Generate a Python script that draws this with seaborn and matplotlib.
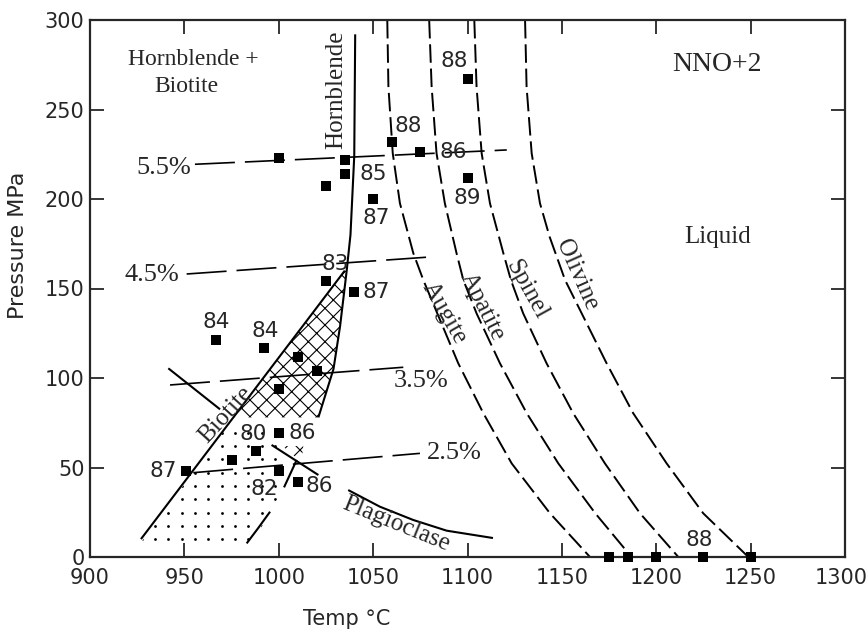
import numpy as np
import pandas as pd
import matplotlib
matplotlib.use("Agg")
import matplotlib.pyplot as plt
import matplotlib.transforms as mtransforms
import seaborn as sns
from matplotlib.patches import Polygon

# ---------------- data ----------------
pt_temp = [1000, 1035, 1035, 1025, 1050, 1060, 1075, 1100, 1100, 1025, 1040,
           967, 992, 1010, 1020, 1000, 1000, 988, 975, 951, 1000, 1010,
           1175, 1185, 1200, 1225, 1250]
pt_press = [223, 222, 214, 207, 200, 232, 226, 267, 212, 154, 148,
            121, 117, 112, 104, 94, 69, 59, 54, 48, 48, 42,
            0, 0, 0, 0, 0]
pt_label = ["", "", "85", "", "87", "88", "86", "88", "89", "83", "87",
            "84", "84", "", "", "", "86", "80", "", "87", "82", "86",
            "", "", "", "88", ""]

hbl_T = [1040.5, 1040, 1038, 1036, 1032.5, 1029, 1021]
hbl_P = [292, 224, 180, 160, 129, 105, 78]

bio_T = [927, 1035]
bio_P = [10, 160]

augite_T = [1057.5, 1058.1, 1060.4, 1064.2, 1071.3, 1076.6, 1084.0, 1095.1, 1108.4, 1123.4, 1143.7, 1164.9]
augite_P = [300, 262.7, 225.5, 197.6, 169.7, 154.7, 136.1, 108.2, 80.3, 52.3, 24.4, 0]
apatite_T = [1079.7, 1081.0, 1083.6, 1088.0, 1094.2, 1097.8, 1104.8, 1117.2, 1131.4, 1148.1, 1167.7, 1186.9]
apatite_P = [300, 262.7, 225.5, 197.6, 169.7, 154.7, 136.1, 108.2, 80.3, 52.3, 24.4, 0]
spinel_T = [1103.6, 1104.8, 1107.5, 1111.9, 1119.0, 1123.0, 1129.5, 1141.9, 1156.0, 1172.8, 1191.4, 1211.7]
spinel_P = [300, 262.7, 225.5, 197.6, 169.7, 154.7, 136.1, 108.2, 80.3, 52.3, 24.4, 0]
olivine_T = [1130.5, 1131.3, 1134.0, 1138.4, 1143.5, 1151.7, 1160.5, 1173.7, 1187.8, 1205.5, 1224.9, 1248.8]
olivine_P = [300, 262.7, 225.5, 197.6, 178.9, 154.7, 136.1, 108.2, 80.3, 52.3, 24.4, 0]

plag_T = [1036.8, 1053.6, 1071.2, 1089, 1113.5]
plag_P = [37.4, 28.1, 20.7, 14.7, 10.6]

water_labels = ["5.5%", "4.5%", "3.5%", "2.5%"]
water_T = [[955.6, 1120.8], [951.2, 1082.8], [942.4, 1066], [954.7, 1074.8]]
water_P = [[219.4, 227.4], [158.1, 167.8], [96.1, 106], [47.1, 57.9]]

seg_T = [[941.5, 968.9], [996.2, 1021], [1009.5, 1002.8], [995.4, 989, 983]]
seg_P = [[105.4, 82.5], [62.6, 45.8], [54.2, 38.9], [25.3, 16, 7.6]]

hatch_T = [976.5, 1035, 1036, 1032.5, 1029, 1021]
hatch_P = [78, 160, 160, 129, 105, 78]
hatch2_T = [1002, 1013, 1012]
hatch2_P = [62, 62, 53]
dot_T = [927, 986, 996, 1003, 1004, 972]
dot_P = [8, 8, 26, 40, 70, 72]

x_ticks = [900, 950, 1000, 1050, 1100, 1150, 1200, 1250, 1300]
y_ticks = [0, 50, 100, 150, 200, 250, 300]

# label offsets in pixels (dx, dy) for the point labels
lab_off = [(0, 0), (0, 0), (28, 0), (0, 0), (3, -19), (16, 16), (33, 0), (-13, 18),
           (0, -20), (9, 17), (22, 0), (0, 18), (2, 17), (0, 0), (0, 0), (0, 0),
           (23, 0), (-3, 17), (0, 0), (-23, 0), (-15, -18), (22, -4),
           (0, 0), (0, 0), (0, 0), (-4, 17), (0, 0)]

# ---------------- figure ----------------
sns.set_style("ticks")
plt.rcParams["font.family"] = ["DejaVu Sans"]
plt.rcParams["hatch.linewidth"] = 0.8

fig = plt.figure(figsize=(8.67, 6.30), dpi=100)
ax = fig.add_axes([90 / 867, 73 / 630, 755 / 867, 537 / 630])

serif = ["Liberation Serif", "DejaVu Serif"]

# hatched (crosshatch) regions
for hx, hy in ((hatch_T, hatch_P), (hatch2_T, hatch2_P)):
    ax.add_patch(Polygon(list(zip(hx, hy)), closed=True, fill=False,
                         hatch="xx", edgecolor="black", linewidth=0, zorder=1))

# dotted region: regular dot texture clipped to polygon
dot_poly = Polygon(list(zip(dot_T, dot_P)), closed=True, fill=False,
                   linewidth=0, edgecolor="none")
ax.add_patch(dot_poly)
gx, gy = np.meshgrid(np.arange(913.3, 1010, 7.06), np.arange(2.45, 75, 7.45))
dots = ax.scatter(gx.ravel(), gy.ravel(), s=4, c="black", linewidths=0, zorder=1)
dots.set_clip_path(dot_poly)

# solid boundaries
solid_kw = dict(color="black", lw=1.5, solid_capstyle="butt")
ax.plot(hbl_T, hbl_P, **solid_kw)
ax.plot(bio_T, bio_P, **solid_kw)
ax.plot(plag_T, plag_P, **solid_kw)
for sx, sy in zip(seg_T, seg_P):
    ax.plot(sx, sy, **solid_kw)

# dashed liquidus curves
for cx, cy in ((augite_T, augite_P), (apatite_T, apatite_P),
               (spinel_T, spinel_P), (olivine_T, olivine_P)):
    df = pd.DataFrame({"T": cx, "P": cy})
    sns.lineplot(data=df, x="T", y="P", sort=False, estimator=None, ax=ax,
                 color="black", lw=1.4, linestyle=(0, (9.5, 3.0)))

# water-content isopleths
for wx, wy in zip(water_T, water_P):
    ax.plot(wx, wy, color="black", lw=1.2, linestyle=(0, (24, 6)))

# data points
pts = pd.DataFrame({"T": pt_temp, "P": pt_press, "lab": pt_label})
sns.scatterplot(data=pts, x="T", y="P", marker="s", s=62, color="black",
                edgecolor="black", linewidth=0, ax=ax, zorder=5, clip_on=False)
for (t, p, lab), (dx, dy) in zip(zip(pt_temp, pt_press, pt_label), lab_off):
    if lab:
        ax.annotate(lab, (t, p), xytext=(dx, dy), textcoords="offset pixels",
                    ha="center", va="center", fontsize=15.5, family="DejaVu Sans")

# serif annotations
ax.text(954.7, 277.7, "Hornblende +", family=serif, fontsize=17, ha="center", va="center")
ax.text(951.2, 262.7, "Biotite", family=serif, fontsize=17, ha="center", va="center")
ax.text(1030.7, 260.9, "Hornblende", family=serif, fontsize=18, ha="center", va="center", rotation=90)
ax.text(1232.4, 274.9, "NNO+2", family=serif, fontsize=20, ha="center", va="center")
ax.text(1232.4, 178.9, "Liquid", family=serif, fontsize=18, ha="center", va="center")
ax.text(1157.7, 157.5, "Olivine", family=serif, fontsize=18, ha="center", va="center", rotation=-66)
ax.text(1131.3, 149.2, "Spinel", family=serif, fontsize=18, ha="center", va="center", rotation=-61)
ax.text(1108.0, 139.7, "Apatite", family=serif, fontsize=18, ha="center", va="center", rotation=-63)
ax.text(1087.8, 136.3, "Augite", family=serif, fontsize=18, ha="center", va="center", rotation=-60)
ax.text(972.0, 79.3, "Biotite", family=serif, fontsize=18, ha="center", va="center", rotation=47.6)
ax.text(1062.1, 18.4, "Plagioclase", family=serif, fontsize=18, ha="center", va="center", rotation=-22)
water_pos = [(939.2, 217.3), (933.0, 157.5), (1075.2, 98.5), (1092.8, 57.9)]
for lab, (tx, ty) in zip(water_labels, water_pos):
    ax.text(tx, ty, lab, family=serif, fontsize=19, ha="center", va="center")

# axes styling
ax.set_xlim(900, 1300)
ax.set_ylim(0, 300)
ax.set_xticks(x_ticks)
ax.set_yticks(y_ticks)
ax.tick_params(direction="in", length=10, width=1.3, labelsize=15,
               top=True, right=True)
ax.tick_params(axis="x", pad=8)
ax.tick_params(axis="y", pad=4)
for s in ax.spines.values():
    s.set_visible(True)
    s.set_linewidth(1.6)
ax.set_xlabel("Temp °C", fontsize=15)
ax.set_ylabel("Pressure MPa", fontsize=16)
ax.xaxis.set_label_coords(0.34, -0.097)
ax.yaxis.set_label_coords(-0.082, 0.58)

# keep the last x tick label inside the canvas (it sits at the edge in the reference)
last = ax.get_xticklabels()[-1]
last.set_transform(last.get_transform() +
                   mtransforms.ScaledTranslation(-4 / 100, 0, fig.dpi_scale_trans))

fig.savefig("out.png", dpi=100)
